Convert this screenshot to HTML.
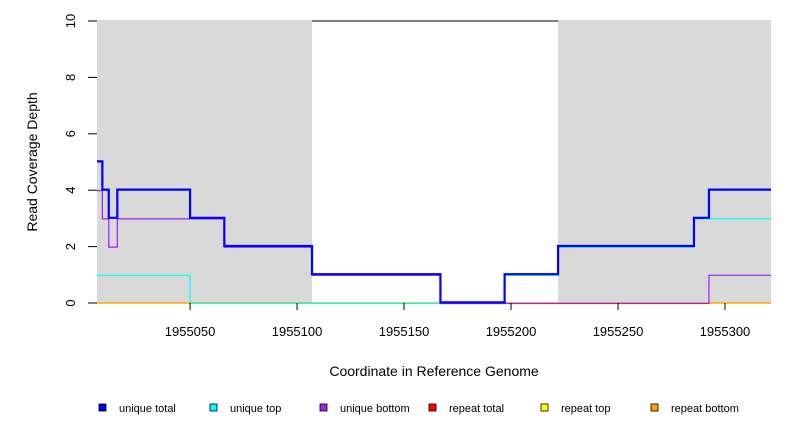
<!DOCTYPE html>
<html><head><meta charset="utf-8"><style>
body{margin:0;background:#fff;font-family:"Liberation Sans",sans-serif}
svg text{font-family:"Liberation Sans",sans-serif}
</style></head><body>
<svg id="chart" width="792" height="432" xmlns="http://www.w3.org/2000/svg"></svg>
<script>
const xDomain=[1955006.5,1955321.5];
const yDomain=[0,10];
const greyRegions=[[1955006.5,1955107],[1955222,1955321.5]];
const xTicks=[1955050,1955100,1955150,1955200,1955250,1955300];
const yTicks=[0,2,4,6,8,10];
const repeatBottomX=[1955006.5,1955321.5]; const repeatBottomY=[0];
const uniqueTopX=[1955006.5,1955050,1955197,1955222,1955285.5,1955321.5];
const uniqueTopY=[1,0,1,2,3];
const uniqueBottomX=[1955006.5,1955009,1955012,1955016,1955066,1955107,1955167,1955292.5,1955321.5];
const uniqueBottomY=[4,3,2,3,2,1,0,1];
const uniqueTotalX=[1955006.5,1955009,1955012,1955016,1955050,1955066,1955107,1955167,1955197,1955222,1955285.5,1955292.5,1955321.5];
const uniqueTotalY=[5,4,3,4,3,2,1,0,1,2,3,4];
const legendLabels=["unique total","unique top","unique bottom","repeat total","repeat top","repeat bottom"];
const legendColors=["#0000ff","#00ffff","#a020f0","#ff0000","#ffff00","#ffa500"];

const L=97,R=771,T=21,B=303;
const sx=v=>L+(v-xDomain[0])/(xDomain[1]-xDomain[0])*(R-L);
const sy=v=>B-(v-yDomain[0])/(yDomain[1]-yDomain[0])*(B-T);
const svg=document.getElementById('chart');
const NS='http://www.w3.org/2000/svg';
function mk(tag,attrs,parent){const e=document.createElementNS(NS,tag);for(const k in attrs)e.setAttribute(k,attrs[k]);(parent||svg).appendChild(e);return e;}

let e=mk('line',{x1:L,x2:R,y1:sy(10),y2:sy(10),stroke:'#000','stroke-width':1});


greyRegions.forEach((g,i)=>{
  const r=mk('rect',{x:sx(g[0]),y:sy(10)-1,width:sx(g[1])-sx(g[0]),height:sy(0)-sy(10)+1,fill:'#d9d9d9'});
  
  
});
function step(xs,ys,color,w,name,dy){
  dy=dy||0;
  let d='M'+sx(xs[0])+','+(sy(ys[0])+dy);
  for(let i=0;i<ys.length;i++){d+=' L'+sx(xs[i+1])+','+(sy(ys[i])+dy);if(i+1<ys.length)d+=' L'+sx(xs[i+1])+','+(sy(ys[i+1])+dy);}
  const p=mk('path',{d:d,fill:'none',stroke:color,'stroke-width':w});
  
  
}
step(repeatBottomX,repeatBottomY,'#ffa500',1.5,'repeat-bottom-line');
step(uniqueTopX,uniqueTopY,'#00ffff',1.2,'unique-top-line',0.5);
step(uniqueBottomX,uniqueBottomY,'#a020f0',1.2,'unique-bottom-line',0.5);
step(uniqueTotalX,uniqueTotalY,'#0000ff',2.2,'unique-total-line',-0.6);

xTicks.forEach(v=>{
  const l=mk('line',{x1:sx(v),x2:sx(v),y1:B,y2:B+7,stroke:'#000'});
  
  
  const t=mk('text',{x:sx(v),y:B+33,'text-anchor':'middle','font-size':13});t.textContent=v;
  
  
});
yTicks.forEach(v=>{
  const l=mk('line',{x1:L-9,x2:L,y1:sy(v),y2:sy(v),stroke:'#000'});
  
  
  const t=mk('text',{x:0,y:0,'text-anchor':'middle','font-size':13,transform:'translate(75,'+sy(v)+') rotate(-90)'});t.textContent=v;
  
  
});
let t=mk('text',{x:434,y:376,'text-anchor':'middle','font-size':14});t.textContent='Coordinate in Reference Genome';


t=mk('text',{x:0,y:0,'text-anchor':'middle','font-size':14,transform:'translate(37,162) rotate(-90)'});t.textContent='Read Coverage Depth';


const legX=[98,209,319,428,540,650];
legendLabels.forEach((lab,i)=>{
  const g=mk('g',{});
  
  
  mk('rect',{x:legX[i]+1,y:404,width:7,height:7,fill:legendColors[i],stroke:'#000','stroke-width':0.8},g);
  const tx=mk('text',{x:legX[i]+21,y:412,'font-size':11},g);tx.textContent=lab;
});
</script>
</body></html>
